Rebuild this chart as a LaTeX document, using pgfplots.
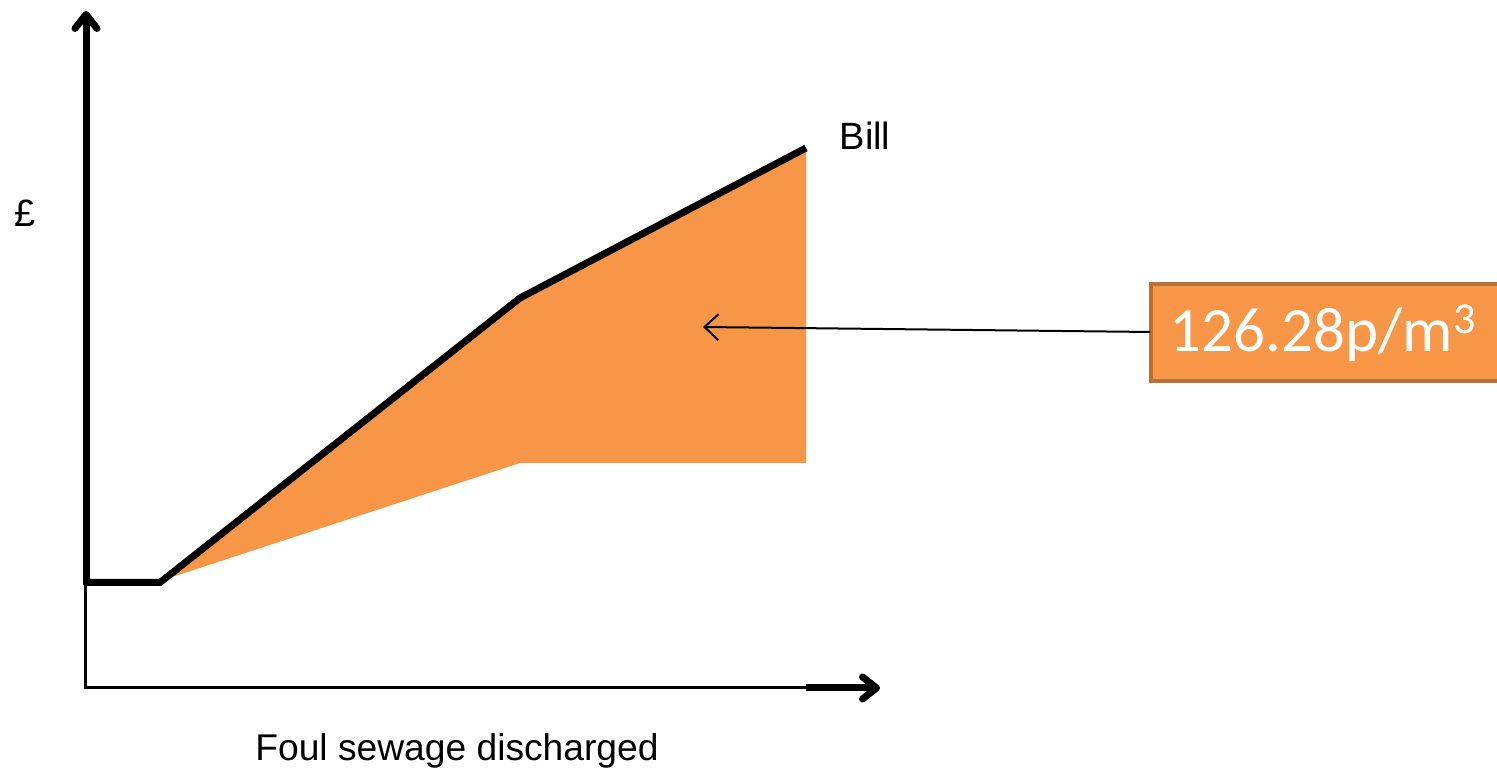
\documentclass[border=0pt]{standalone}
\usepackage{pgfplots}
\pgfplotsset{compat=1.18}
\usepackage{fontspec}
\setmainfont{Liberation Sans}
\newfontfamily\calibri{Carlito}
\usetikzlibrary{arrows.meta}
\definecolor{fillorange}{HTML}{F79646}
\definecolor{boxborder}{RGB}{184,112,54}
\begin{document}
\begin{tikzpicture}
\begin{axis}[
  scale only axis, width=748.5pt, height=385.5pt,
  xmin=0, xmax=1497, ymin=0, ymax=771,
  axis lines=none, clip=false,
]
\path (rel axis cs:0,0) rectangle (rel axis cs:1,1);
% shaded area
\addplot[fill=fillorange, draw=none] coordinates {
  (160,190) (520,473) (806,623) (806,308) (520,308) (160,190)} -- cycle;
% thin axis parts
\addplot[black, line width=1.5pt] coordinates {(85.5,188) (85.5,83) (806,83)};
% thick y axis with arrow
\addplot[black, line width=3.5pt, -{Straight Barb[length=7pt,width=11pt,round]}] coordinates {(86,186) (86,760)};
% thick x axis with arrow
\addplot[black, line width=3.5pt, -{Straight Barb[length=7pt,width=11pt,round]}] coordinates {(806,83) (880,83)};
% bill line
\addplot[black, line width=3.5pt, line join=miter] coordinates {(85,188.5) (160,188.5) (520,473) (806,623)};
% label box (right edge runs off the picture)
\draw[overlay, boxborder, line width=2pt, fill=fillorange] (axis cs:1151,390) rectangle (axis cs:1502,487);
\node[text=white, font=\calibri\fontsize{31.5pt}{33pt}\selectfont] at (axis cs:1323,438) {126.28p/m\textsuperscript{3}};
% pointer arrow
\draw[black, line width=1pt, -{Straight Barb[length=7pt,width=13pt]}] (axis cs:1150,439) -- (axis cs:703,444);
% texts
\node[font=\fontsize{19pt}{21pt}\selectfont] at (axis cs:865,635) {Bill};
\node[font=\fontsize{19pt}{21pt}\selectfont] at (axis cs:25,558) {£};
\node[font=\fontsize{18.6pt}{20pt}\selectfont] at (axis cs:457,20) {Foul sewage discharged};
\end{axis}
\end{tikzpicture}
\end{document}
